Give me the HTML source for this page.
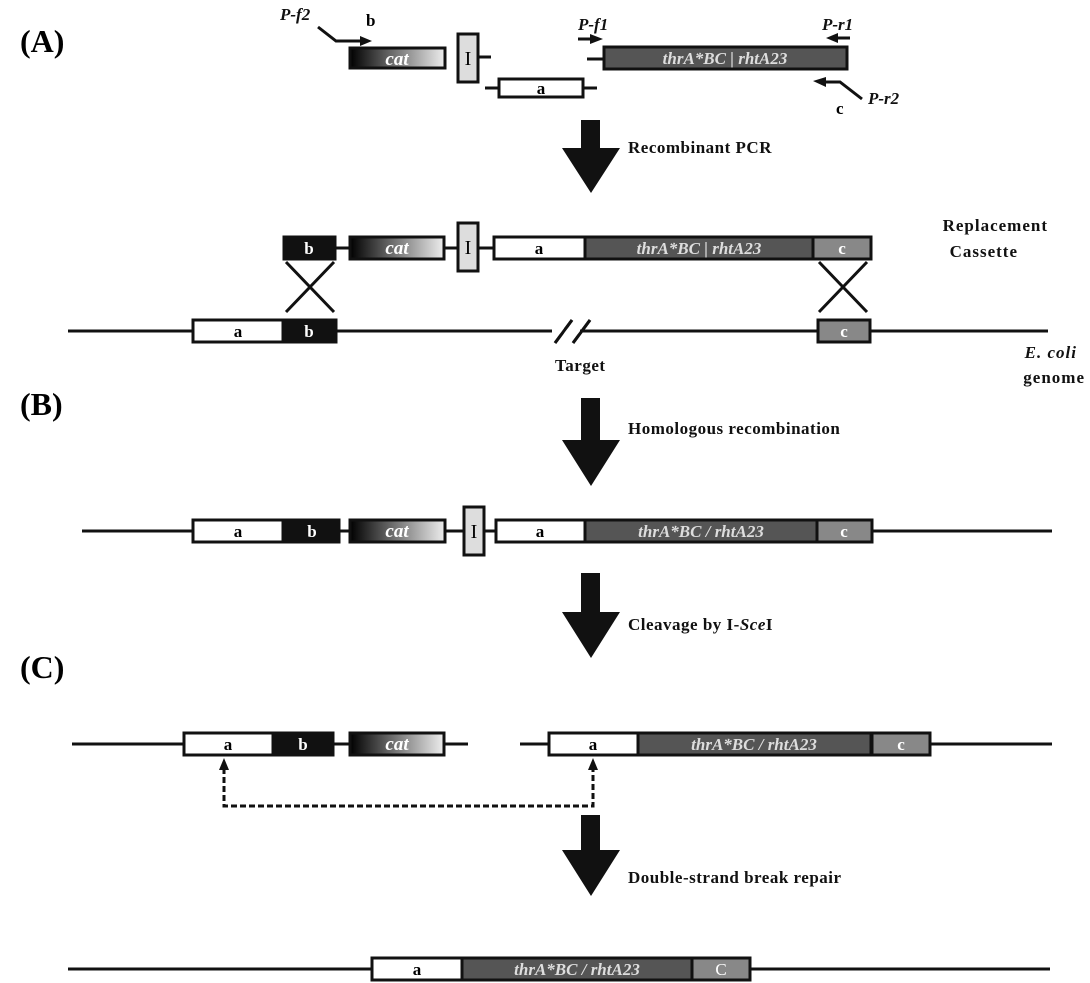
<!DOCTYPE html>
<html><head><meta charset="utf-8"><style>
html,body{margin:0;padding:0;background:#fff}
svg{display:block}
text{font-family:"Liberation Serif",serif;font-weight:bold}
</style></head><body>
<svg width="1090" height="983" viewBox="0 0 1090 983" xmlns="http://www.w3.org/2000/svg">
<defs>
<linearGradient id="g" x1="0" x2="1"><stop offset="0" stop-color="#000"/><stop offset="0.35" stop-color="#555"/><stop offset="1" stop-color="#eee"/></linearGradient>
<marker id="ah" markerWidth="6" markerHeight="6" refX="3" refY="3" orient="auto"><path d="M0,0L6,3L0,6z" fill="#111"/></marker>
</defs>
<g stroke="#111" stroke-width="3" fill="none">
<!-- Row A -->
<line x1="478" y1="57" x2="491" y2="57"/>
<line x1="485" y1="88" x2="498" y2="88"/><line x1="583" y1="88" x2="597" y2="88"/>
<line x1="587" y1="59" x2="603" y2="59"/>
<!-- cassette row -->
<line x1="335" y1="248" x2="349" y2="248"/><line x1="444" y1="248" x2="457" y2="248"/><line x1="478" y1="248" x2="493" y2="248"/>
<line x1="68" y1="331" x2="552" y2="331"/><line x1="580" y1="331" x2="1048" y2="331"/>
<line x1="286" y1="262" x2="334" y2="312"/><line x1="334" y1="262" x2="286" y2="312"/>
<line x1="819" y1="262" x2="867" y2="312"/><line x1="867" y1="262" x2="819" y2="312"/>
<line x1="555" y1="343" x2="572" y2="320"/><line x1="573" y1="343" x2="590" y2="320"/>
<!-- Row B -->
<line x1="82" y1="531" x2="1052" y2="531"/>
<!-- Row C -->
<line x1="72" y1="744" x2="468" y2="744"/>
<line x1="520" y1="744" x2="1052" y2="744"/>
<!-- final -->
<line x1="68" y1="969" x2="1050" y2="969"/>
</g>
<line x1="555" y1="331" x2="580" y2="331" stroke="#fff" stroke-width="5"/>
<g stroke="#111" stroke-width="3"><line x1="555" y1="343" x2="572" y2="320"/><line x1="573" y1="343" x2="590" y2="320"/></g>

<!-- primers -->
<g stroke="#111" stroke-width="3" fill="none">
<polyline points="318,27 336,41 362,41"/>
<line x1="578" y1="39" x2="592" y2="39"/>
<line x1="850" y1="38" x2="836" y2="38"/>
<polyline points="862,99 840,82 824,82"/>
</g>
<g fill="#111">
<path d="M360,36L372,41L360,46z"/><path d="M590,34L603,39L590,44z"/>
<path d="M838,33L826,38L838,43z"/><path d="M826,77L813,81L826,87z"/>
</g>
<g font-size="17" font-style="italic" fill="#111">
<text x="280" y="20">P-f2</text><text x="578" y="30">P-f1</text><text x="822" y="30">P-r1</text><text x="868" y="104">P-r2</text>
</g>
<text x="366" y="26" font-size="17">b</text><text x="836" y="114" font-size="17">c</text>

<g font-size="32"><text x="20" y="52">(A)</text><text x="20" y="415">(B)</text><text x="20" y="678">(C)</text></g>

<!-- generic boxes -->
<g stroke="#111" stroke-width="3">
<!-- row A -->
<rect x="350" y="48" width="95" height="20" fill="url(#g)"/>
<rect x="458" y="34" width="20" height="48" fill="#ddd"/>
<rect x="499" y="79" width="84" height="18" fill="#fff"/>
<rect x="604" y="47" width="243" height="22" fill="#555"/>
<!-- cassette -->
<rect x="284" y="237" width="51" height="22" fill="#111"/>
<rect x="350" y="237" width="94" height="22" fill="url(#g)"/>
<rect x="458" y="223" width="20" height="48" fill="#ddd"/>
<rect x="494" y="237" width="91" height="22" fill="#fff"/>
<rect x="585" y="237" width="228" height="22" fill="#555"/>
<rect x="813" y="237" width="58" height="22" fill="#888"/>
<!-- genome -->
<rect x="193" y="320" width="90" height="22" fill="#fff"/>
<rect x="283" y="320" width="53" height="22" fill="#111"/>
<rect x="818" y="320" width="52" height="22" fill="#888"/>
<!-- row B -->
<rect x="193" y="520" width="90" height="22" fill="#fff"/>
<rect x="285" y="520" width="54" height="22" fill="#111"/>
<rect x="350" y="520" width="95" height="22" fill="url(#g)"/>
<rect x="464" y="507" width="20" height="48" fill="#ddd"/>
<rect x="496" y="520" width="89" height="22" fill="#fff"/>
<rect x="585" y="520" width="232" height="22" fill="#555"/>
<rect x="817" y="520" width="55" height="22" fill="#888"/>
<!-- row C -->
<rect x="184" y="733" width="89" height="22" fill="#fff"/>
<rect x="274" y="733" width="59" height="22" fill="#111"/>
<rect x="350" y="733" width="94" height="22" fill="url(#g)"/>
<rect x="549" y="733" width="89" height="22" fill="#fff"/>
<rect x="638" y="733" width="233" height="22" fill="#555"/>
<rect x="872" y="733" width="58" height="22" fill="#888"/>
<!-- final -->
<rect x="372" y="958" width="90" height="22" fill="#fff"/>
<rect x="462" y="958" width="230" height="22" fill="#555"/>
<rect x="692" y="958" width="58" height="22" fill="#888"/>
</g>

<!-- box labels -->
<g font-size="17" text-anchor="middle">
<text x="541" y="94">a</text>
<g fill="#fff" font-style="italic" font-size="19"><text x="397" y="65">cat</text><text x="397" y="254">cat</text><text x="397" y="537">cat</text><text x="397" y="750">cat</text></g>
<g font-weight="normal" font-size="20"><text x="468" y="65" style="font-weight:normal">I</text><text x="468" y="254" style="font-weight:normal">I</text><text x="474" y="538" style="font-weight:normal">I</text></g>
<g fill="#ddd" font-style="italic" font-size="17"><text x="725" y="64">thrA*BC | rhtA23</text><text x="699" y="254">thrA*BC | rhtA23</text><text x="701" y="537">thrA*BC / rhtA23</text><text x="754" y="750">thrA*BC / rhtA23</text><text x="577" y="975">thrA*BC / rhtA23</text></g>
<g fill="#fff"><text x="309" y="254">b</text><text x="842" y="254">c</text><text x="309" y="337">b</text><text x="844" y="337">c</text><text x="312" y="537">b</text><text x="844" y="537">c</text><text x="303" y="750">b</text><text x="901" y="750">c</text><text x="721" y="975" style="font-weight:normal">C</text></g>
<text x="539" y="254">a</text><text x="238" y="337">a</text><text x="238" y="537">a</text><text x="540" y="537">a</text><text x="228" y="750">a</text><text x="593" y="750">a</text><text x="417" y="975">a</text>
</g>

<!-- dashed -->
<polyline points="224,768 224,806 593,806 593,768" fill="none" stroke="#111" stroke-width="3" stroke-dasharray="6,3"/>
<path d="M219,770L224,758L229,770z M588,770L593,758L598,770z" fill="#111"/>

<!-- big arrows -->
<g fill="#111">
<path d="M581,120H600V148H620L591,193L562,148H581Z"/>
<path d="M581,398H600V440H620L591,486L562,440H581Z"/>
<path d="M581,573H600V612H620L591,658L562,612H581Z"/>
<path d="M581,815H600V850H620L591,896L562,850H581Z"/>
</g>
<g font-size="17" fill="#111" style="letter-spacing:0.5px">
<text x="628" y="153">Recombinant PCR</text>
<text x="628" y="434">Homologous recombination</text>
<text x="628" y="630">Cleavage by I-<tspan font-style="italic">Sce</tspan>I</text>
<text x="628" y="883">Double-strand break repair</text>
<text x="1048" y="231" text-anchor="end" style="letter-spacing:1px">Replacement</text>
<text x="1018" y="257" text-anchor="end" style="letter-spacing:1px">Cassette</text>
<text x="555" y="371">Target</text>
<text x="1077" y="358" text-anchor="end" font-style="italic" style="letter-spacing:1px">E. coli</text>
<text x="1085" y="383" text-anchor="end" style="letter-spacing:1px">genome</text>
</g>
</svg>
</body></html>
